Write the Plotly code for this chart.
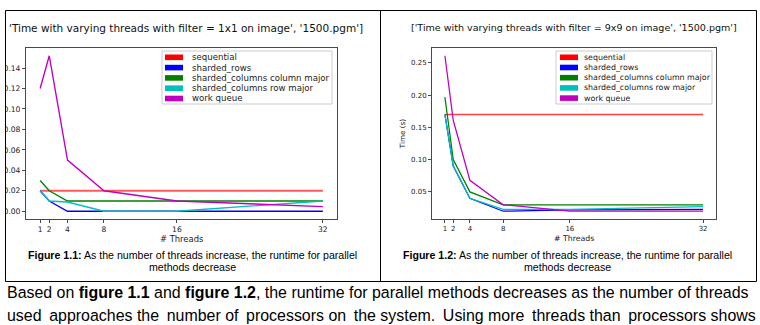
import plotly.graph_objects as go

W, H = 760, 325

# ---- data -------------------------------------------------------------
threads = [1, 2, 4, 8, 16, 32]
thread_ticks = [1, 2, 4, 8, 16, 32]

series_names = [
    "sequential",
    "sharded_rows",
    "sharded_columns column major",
    "sharded_columns row major",
    "work queue",
]
series_colors = ["#ff0000", "#0000ff", "#008000", "#00bfbf", "#bf00bf"]

# filter = 1x1
seq_1x1 = [0.02, 0.02, 0.02, 0.02, 0.02, 0.02]
rows_1x1 = [0.02, 0.01, 0.0, 0.0, 0.0, 0.0]
colmaj_1x1 = [0.03, 0.02, 0.01, 0.01, 0.01, 0.01]
rowmaj_1x1 = [0.02, 0.01, 0.009, 0.0, 0.0, 0.01]
queue_1x1 = [0.12, 0.152, 0.05, 0.02, 0.01, 0.0045]

# filter = 9x9
seq_9x9 = [0.17, 0.17, 0.17, 0.17, 0.17, 0.17]
rows_9x9 = [0.17, 0.09, 0.04, 0.02, 0.022, 0.023]
colmaj_9x9 = [0.197, 0.10, 0.05, 0.03, 0.03, 0.03]
rowmaj_9x9 = [0.17, 0.09, 0.04, 0.023, 0.023, 0.027]
queue_9x9 = [0.261, 0.161, 0.068, 0.03, 0.02, 0.02]

yticks_1x1 = [0.0, 0.02, 0.04, 0.06, 0.08, 0.10, 0.12, 0.14]
yticks_9x9 = [0.05, 0.10, 0.15, 0.20, 0.25]

title_1x1 = "'Time with varying threads with filter = 1x1 on image', '1500.pgm']"
title_9x9 = "['Time with varying threads with filter = 9x9 on image', '1500.pgm']"
xlabel = "# Threads"
ylabel = "Time (s)"
caption_rest = "As the number of threads increase, the runtime for parallel"
caption_line2 = "methods decrease"
body_line1 = ("Based on <b>figure 1.1</b> and <b>figure 1.2</b>, the runtime for parallel "
              "methods decreases as the number of threads")
body_line2 = ("used approaches the number of processors on the system. Using more threads "
              "than processors shows")


def px(x):
    return x / W


def py(y):
    return 1 - y / H


def auto_range(values):
    """matplotlib-style 5% padding around the data."""
    mn, mx = min(values), max(values)
    pad = (mx - mn) * 0.05
    return [mn - pad, mx + pad]


def justify(text, extra_every=2):
    """Widen some word gaps with a thin space so the line fills the column."""
    words = text.split(" ")
    out = words[0]
    for i, w in enumerate(words[1:]):
        gap = " \u2009" if i % extra_every == 0 else " "
        out += gap + w
    return out


MPL = "DejaVu Sans"
ARIAL = "Liberation Sans"

fig = go.Figure()

panels = [
    dict(xa="x", ya="y", data=[seq_1x1, rows_1x1, colmaj_1x1, rowmaj_1x1, queue_1x1],
         red_w=2.2, red_c="rgba(255,0,0,0.65)", lw=1.35),
    dict(xa="x2", ya="y2", data=[seq_9x9, rows_9x9, colmaj_9x9, rowmaj_9x9, queue_9x9],
         red_w=1.6, red_c="rgba(255,0,0,0.75)", lw=1.25),
]

for p in panels:
    for i, (name, vals) in enumerate(zip(series_names, p["data"])):
        if i == 0:
            line = dict(color=p["red_c"], width=p["red_w"])
        else:
            line = dict(color=series_colors[i], width=p["lw"])
        fig.add_trace(go.Scatter(x=threads, y=vals, mode="lines", name=name,
                                 line=line, xaxis=p["xa"], yaxis=p["ya"],
                                 showlegend=False, hoverinfo="skip"))

all_1x1 = seq_1x1 + rows_1x1 + colmaj_1x1 + rowmaj_1x1 + queue_1x1
all_9x9 = seq_9x9 + rows_9x9 + colmaj_9x9 + rowmaj_9x9 + queue_9x9

axis_common = dict(
    showgrid=False, zeroline=False, showline=True, mirror=True,
    linecolor="#4a4a4a", linewidth=1, ticks="outside", ticklen=3,
    tickwidth=1, tickcolor="#4a4a4a",
)

L_DOM = [26, 337]
R_DOM = [432, 716]
Y_DOM = [48, 219]

fig.update_layout(
    width=W, height=H,
    margin=dict(l=0, r=0, t=0, b=0),
    paper_bgcolor="white", plot_bgcolor="white",
    showlegend=False,
    xaxis=dict(domain=[px(L_DOM[0]), px(L_DOM[1])], range=auto_range(threads),
               tickvals=thread_ticks, anchor="y",
               tickfont=dict(family=MPL, size=7.6, color="#222"),
               **axis_common),
    yaxis=dict(domain=[py(Y_DOM[1]), py(Y_DOM[0])], range=auto_range(all_1x1),
               tickvals=yticks_1x1, tickformat=".2f", anchor="x",
               tickfont=dict(family=MPL, size=7.6, color="#222"),
               **axis_common),
    xaxis2=dict(domain=[px(R_DOM[0]), px(R_DOM[1])], range=auto_range(threads),
                tickvals=thread_ticks, anchor="y2",
                tickfont=dict(family=MPL, size=7, color="#222"),
                **axis_common),
    yaxis2=dict(domain=[py(Y_DOM[1]), py(Y_DOM[0])], range=auto_range(all_9x9),
                tickvals=yticks_9x9, tickformat=".2f", anchor="x2",
                tickfont=dict(family=MPL, size=7, color="#222"),
                title=dict(text=ylabel, standoff=4,
                           font=dict(family=MPL, size=7.2, color="#222")),
                **axis_common),
)

shapes = []
annotations = []

# x-axis labels
for dom, fs in [(L_DOM, 8.4), (R_DOM, 7.8)]:
    annotations.append(dict(text=xlabel, xref="paper", yref="paper",
                            x=px((dom[0] + dom[1]) / 2), y=py(238.5),
                            xanchor="center", yanchor="middle", showarrow=False,
                            font=dict(family=MPL, size=fs, color="#222")))

# legends drawn as filled patches + labels
legend_specs = [
    dict(box=(162, 51, 332, 104), patch=(165, 183), text_x=190, y0=57.3, dy=10.3, fs=8.6),
    dict(box=(556, 51, 712, 104), patch=(560, 578), text_x=582, y0=57.3, dy=10.2, fs=7.9),
]
for spec in legend_specs:
    x0, y0, x1, y1 = spec["box"]
    shapes.append(dict(type="rect", xref="paper", yref="paper",
                       x0=px(x0), x1=px(x1), y0=py(y1), y1=py(y0),
                       line=dict(color="#cccccc", width=1),
                       fillcolor="rgba(255,255,255,0.85)", layer="above"))
    for i, (name, color) in enumerate(zip(series_names, series_colors)):
        yc = spec["y0"] + spec["dy"] * i
        shapes.append(dict(type="rect", xref="paper", yref="paper",
                           x0=px(spec["patch"][0]), x1=px(spec["patch"][1]),
                           y0=py(yc + 2.8), y1=py(yc - 2.8),
                           line=dict(width=0), fillcolor=color, layer="above"))
        annotations.append(dict(text=name, xref="paper", yref="paper",
                                x=px(spec["text_x"]), y=py(yc), xanchor="left",
                                yanchor="middle", showarrow=False,
                                font=dict(family=MPL, size=spec["fs"], color="#222")))

# left panel is cropped at the cell edge
shapes.append(dict(type="rect", xref="paper", yref="paper",
                   x0=0, x1=px(5.8), y0=py(281), y1=py(10),
                   line=dict(width=0), fillcolor="white", layer="above"))

# table frame
shapes.append(dict(type="rect", xref="paper", yref="paper",
                   x0=px(5.5), x1=px(756.5), y0=py(281.5), y1=py(10.5),
                   line=dict(color="black", width=1), fillcolor="rgba(0,0,0,0)",
                   layer="above"))
shapes.append(dict(type="line", xref="paper", yref="paper",
                   x0=px(380.5), x1=px(380.5), y0=py(281.5), y1=py(10.5),
                   line=dict(color="black", width=1), layer="above"))

# chart titles
annotations.append(dict(text=title_1x1, xref="paper", yref="paper",
                        x=px(7), y=py(27.5), xanchor="left", yanchor="middle",
                        showarrow=False, font=dict(family=MPL, size=10.5, color="#111")))
annotations.append(dict(text=title_9x9, xref="paper", yref="paper",
                        x=px(574), y=py(27.5), xanchor="center", yanchor="middle",
                        showarrow=False, font=dict(family=MPL, size=9.55, color="#111")))

# captions
for cx, num in [(192.5, "1.1"), (567, "1.2")]:
    annotations.append(dict(text=f"<b>Figure {num}:</b> {caption_rest}",
                            xref="paper", yref="paper", x=px(cx), y=py(255),
                            xanchor="center", yanchor="middle", showarrow=False,
                            font=dict(family=ARIAL, size=10.6, color="black")))
    annotations.append(dict(text=caption_line2, xref="paper", yref="paper",
                            x=px(cx), y=py(267), xanchor="center", yanchor="middle",
                            showarrow=False,
                            font=dict(family=ARIAL, size=10.6, color="black")))

# body text (justified paragraph)
for yc, txt in [(292, body_line1), (315, justify(body_line2, 2))]:
    annotations.append(dict(text=txt, xref="paper", yref="paper", x=px(5), y=py(yc),
                            xanchor="left", yanchor="middle", showarrow=False,
                            font=dict(family=ARIAL, size=15.95, color="black")))

fig.update_layout(shapes=shapes, annotations=annotations)

fig.write_html("out.html")
